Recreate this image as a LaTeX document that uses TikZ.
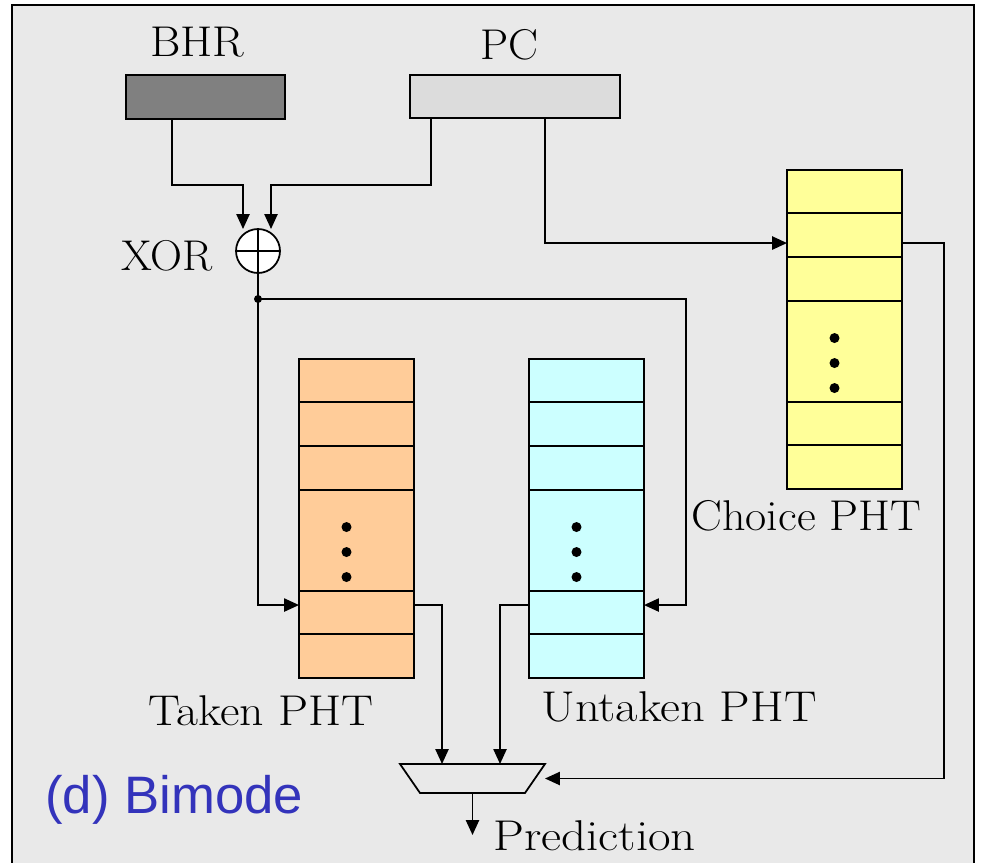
\documentclass[tikz,border=0pt]{standalone}
\usepackage{graphicx}
\usepackage{fontspec}
\newfontfamily\bimodesans{Liberation Sans}
\usetikzlibrary{arrows.meta,calc}

\definecolor{panelbg}{RGB}{233,233,233}
\definecolor{bhrfill}{RGB}{128,128,128}
\definecolor{pcfill}{RGB}{220,220,220}
\definecolor{takenfill}{RGB}{255,204,153}
\definecolor{untakenfill}{RGB}{204,255,255}
\definecolor{choicefill}{RGB}{255,255,153}
\definecolor{titleblue}{RGB}{51,51,187}

\tikzset{
  conn/.style={line width=1pt},
  arr/.style={conn,-{Triangle[length=8.5pt,width=7.5pt]}},
  regbox/.style={draw,line width=1pt,inner sep=0,outer sep=0},
  pht/.style={draw,line width=1pt,inner sep=0,outer sep=0,
    minimum width=2.3cm,minimum height=6.38cm},
  rowline/.style={line width=1.1pt},
  lbl/.style={inner sep=0,font=\fontsize{24.5}{29}\selectfont},
}

% wide-set label text
\newcommand\widelbl[2]{\scalebox{#1}[1]{#2}}

% rows and the ellipsis dots of a pattern history table
\newcommand\phtrows[1]{%
  \foreach \dy in {43,87,131,232,275}
    \draw[rowline] ($(#1.north west)+(0,\dy)$) -- ($(#1.north east)+(0,\dy)$);
  \foreach \dy in {168,193,218}
    \fill ($(#1.north)+(-10,\dy)$) circle[radius=0.1cm];
}

\begin{document}
\begin{tikzpicture}[x=0.02cm,y=-0.02cm]
\useasboundingbox (0,0) rectangle (983,862);
\fill[white] (0,0) rectangle (983,862);
\draw[fill=panelbg,line width=1.1pt] (12,5) rectangle (974,880);

% registers
\node[regbox,fill=bhrfill,minimum width=3.18cm,minimum height=0.88cm] (bhr) at (205.5,97) {};
\node[regbox,fill=pcfill,minimum width=4.2cm,minimum height=0.86cm] (pc) at (515,96.5) {};
\node[lbl,anchor=base west] (bhrlbl) at (150,56) {\widelbl{1.08}{BHR}};
\node[lbl,anchor=base west] (pclbl) at (480,59) {\widelbl{1.04}{PC}};

% xor gate
\node[circle,draw,fill=white,line width=1pt,minimum size=0.88cm,inner sep=0,outer sep=0] (xor) at (258,251) {};
\draw[line width=1pt] (xor.north) -- (xor.south) (xor.west) -- (xor.east);
\node[lbl,anchor=base west] (xorlbl) at (121,270) {\widelbl{1.03}{XOR}};

% pattern history tables
\node[pht,fill=takenfill] (taken) at (356.5,518.5) {};
\node[pht,fill=untakenfill] (untaken) at (586.5,518.5) {};
\node[pht,fill=choicefill] (choice) at (844.5,329.5) {};
\phtrows{taken}
\phtrows{untaken}
\phtrows{choice}
\node[lbl,anchor=base west] (takenlbl) at (148,725) {\widelbl{1.11}{Taken PHT}};
\node[lbl,anchor=base west] (untakenlbl) at (541,721) {\widelbl{1.13}{Untaken PHT}};
\node[lbl,anchor=base west] (choicelbl) at (691,530) {\widelbl{1.07}{Choice PHT}};

% selector
\node[inner sep=0,outer sep=0,minimum width=2.9cm,minimum height=0.58cm] (mux) at (472.5,778.5) {};
\draw[line width=1pt] (mux.north west) -- (mux.north east)
  -- ($(mux.south east)+(-20,0)$) -- ($(mux.south west)+(20,0)$) -- cycle;
\coordinate (out) at (472.5,835);
\node[lbl,anchor=base west] (predlbl) at (493,850) {\widelbl{1.14}{Prediction}};

% index paths
\draw[arr] ($(bhr.south west)+(46,0)$) |- ($(xor.north)+(-15,-44)$) -- ($(xor.north)+(-15,0)$);
\draw[arr] ($(pc.south west)+(21,0)$) |- ($(xor.north)+(13,-44)$) -- ($(xor.north)+(13,0)$);
\draw[arr,line width=1.2pt] ($(pc.south west)+(135,0)$) |- ($(choice.north west)+(0,73)$);

\coordinate (j) at (258,299);
\coordinate (jr) at (686,299);
\draw[conn] (xor.south) -- (j);
\fill (j) circle[radius=0.08cm];
\draw[arr] (j) |- ($(taken.north west)+(0,246)$);
\draw[arr] (j) -- (jr) |- ($(untaken.north east)+(0,246)$);

% table outputs into the selector
\draw[arr] ($(taken.north east)+(0,246)$) -| ($(mux.north west)+(42,0)$);
\draw[arr] ($(untaken.north west)+(0,246)$) -| ($(mux.north west)+(100,0)$);
\draw[arr] ($(choice.north east)+(0,73)$) -| ($(mux.east)+(399,0)$) -- (mux.east);
\draw[arr] (mux.south) -- (out);

\node[anchor=base west,inner sep=0,text=titleblue,font=\bimodesans\fontsize{30}{36}\selectfont] (title) at (45,813) {(d) Bimode};
\end{tikzpicture}
\end{document}
